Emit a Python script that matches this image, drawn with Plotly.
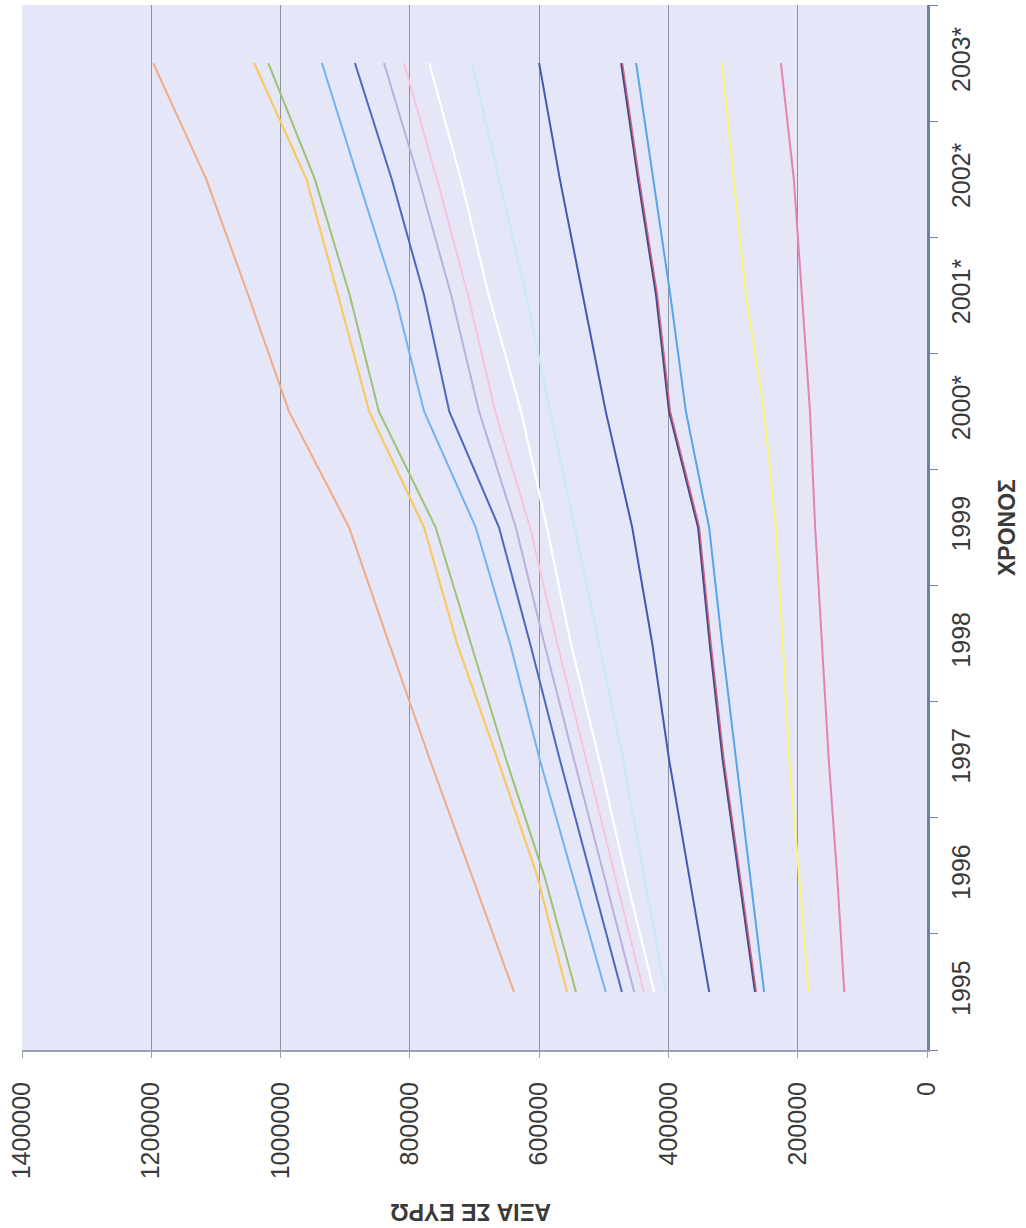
import plotly.graph_objects as go

years = ["1995", "1996", "1997", "1998", "1999", "2000*", "2001*", "2002*", "2003*"]

s_orange = [639000, 704000, 769000, 832000, 894000, 987000, 1050000, 1115000, 1197000]
s_gold = [557000, 603000, 664000, 727000, 778000, 863000, 911000, 960000, 1041000]
s_green = [543000, 592000, 651000, 705000, 760000, 848000, 893000, 947000, 1019000]
s_skyblue = [497000, 548000, 599000, 645000, 698000, 778000, 823000, 880000, 936000]
s_blue = [472000, 520000, 568000, 614000, 662000, 739000, 778000, 828000, 885000]
s_lavender = [453000, 500000, 546000, 592000, 636000, 693000, 736000, 786000, 840000]
s_rose = [438000, 483000, 527000, 572000, 614000, 668000, 710000, 758000, 809000]
s_white = [422000, 466000, 507000, 551000, 588000, 628000, 678000, 721000, 770000]
s_cyan = [404000, 438000, 470000, 507000, 545000, 583000, 620000, 662000, 704000]
s_darkblue = [337000, 368000, 399000, 425000, 456000, 497000, 532000, 568000, 600000]
s_navy = [266000, 291000, 316000, 336000, 354000, 399000, 419000, 447000, 473000]
s_red = [264000, 289000, 314000, 334000, 352000, 397000, 417000, 445000, 471000]
s_azure = [252000, 274000, 295000, 317000, 337000, 373000, 397000, 424000, 450000]
s_yellow = [183000, 198000, 213000, 223000, 234000, 252000, 280000, 299000, 317000]
s_pink = [128000, 139000, 152000, 162000, 173000, 181000, 193000, 206000, 226000]

value_ticks = [0, 200000, 400000, 600000, 800000, 1000000, 1200000, 1400000]

series = [
    ("Σειρά 1", s_orange, "#f2aa84", 2),
    ("Σειρά 2", s_gold, "#f9c862", 2.2),
    ("Σειρά 3", s_green, "#9cc274", 2),
    ("Σειρά 4", s_skyblue, "#72b2f2", 2),
    ("Σειρά 5", s_blue, "#4a68c2", 2),
    ("Σειρά 6", s_lavender, "#bcaede", 2),
    ("Σειρά 7", s_rose, "#f8c4da", 2),
    ("Σειρά 8", s_white, "#ffffff", 2.2),
    ("Σειρά 9", s_cyan, "#c4eaf4", 2),
    ("Σειρά 10", s_darkblue, "#4258b2", 2),
    ("Σειρά 11", s_navy, "#454a86", 2.2),
    ("Σειρά 12", s_red, "#d06484", 1.4),
    ("Σειρά 13", s_azure, "#56a4ec", 2),
    ("Σειρά 14", s_yellow, "#f8f674", 2),
    ("Σειρά 15", s_pink, "#e882aa", 2),
]

fig = go.Figure()
for name, vals, color, w in series:
    fig.add_trace(go.Scatter(
        x=vals, y=years, mode="lines", name=name,
        line=dict(color=color, width=w),
        showlegend=False,
    ))

font_family = "Liberation Sans, Arial, sans-serif"

L, R, T, B = 22, 99, 5, 178
PW = 1026 - L - R
PH = 1228 - T - B

fig.update_layout(
    width=1026, height=1228,
    margin=dict(l=L, r=R, t=T, b=B, autoexpand=False),
    paper_bgcolor="#ffffff",
    plot_bgcolor="#e5e7f8",
    font=dict(family=font_family, size=25, color="#3a3a3a"),
    xaxis=dict(
        range=[1400000, 0],
        tickvals=value_ticks,
        ticktext=[str(v) for v in value_ticks],
        tickangle=-90,
        automargin=False,
        showgrid=True, gridcolor="#8e929e", gridwidth=1.2,
        zeroline=False,
        showline=True, linecolor="#9aa0ae", linewidth=2,
        ticks="outside", ticklen=6, tickcolor="#9aa0ae",
        tickfont=dict(size=25, color="#3a3a3a"),
        ticklabelstandoff=14,
        side="bottom",
    ),
    yaxis=dict(
        type="category",
        categoryorder="array", categoryarray=years,
        range=[-0.5, 8.5],
        side="right",
        tickangle=-90,
        automargin=False,
        tickson="boundaries",
        ticks="outside", ticklen=8, tickcolor="#7282a2",
        showgrid=False, zeroline=False,
        showline=True, linecolor="#7282a2", linewidth=2.5,
        tickfont=dict(size=25, color="#3a3a3a"),
        ticklabelstandoff=10,
    ),
    annotations=[
        dict(text="<b>ΑΞΙΑ ΣΕ ΕΥΡΩ</b>", xref="paper", yref="paper",
             x=(471 - L) / PW, y=(1228 - B - 1212) / PH,
             xanchor="center", yanchor="middle", textangle=180,
             showarrow=False, font=dict(size=23, color="#3a3a3a", family=font_family)),
        dict(text="<b>ΧΡΟΝΟΣ</b>", xref="paper", yref="paper",
             x=(1007 - L) / PW, y=(1228 - B - 528) / PH,
             xanchor="center", yanchor="middle", textangle=-90,
             showarrow=False, font=dict(size=23, color="#3a3a3a", family=font_family)),
    ],
)

fig.write_html(
    "out.html",
    config={"displayModeBar": False},
    post_script="document.body.style.margin='0px';document.body.style.overflow='hidden';",
)
